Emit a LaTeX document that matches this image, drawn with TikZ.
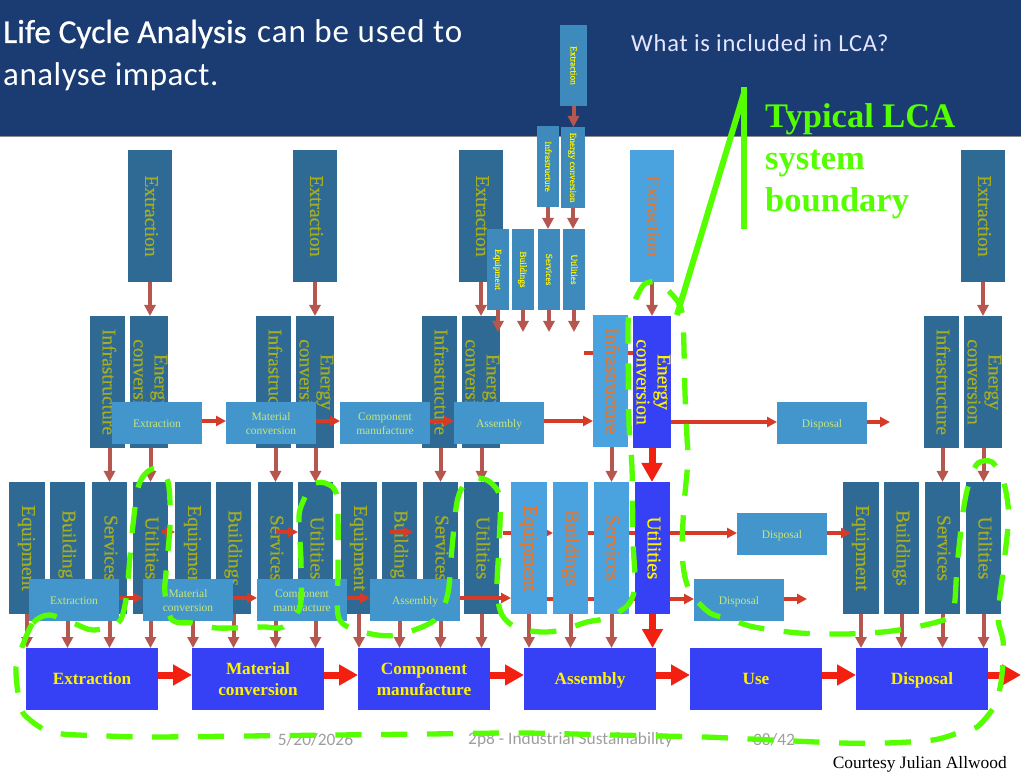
\documentclass[tikz,border=0pt]{standalone}
\usepackage{fontspec}
\usepackage{graphicx}
\usetikzlibrary{arrows.meta}
\setmainfont{Liberation Serif}
\newfontfamily\colfont[FakeBold=0.4]{Liberation Serif}
\newfontfamily\titlefont[FakeBold=0.5]{Carlito}
\newfontfamily\footfont{Carlito}
\newfontfamily\titlewide[LetterSpace=3]{Carlito}
\newfontfamily\titlenarrow[LetterSpace=1.6]{Carlito}

\definecolor{headblue}{HTML}{1A3C73}
\definecolor{steel}{HTML}{2E6A93}
\definecolor{olive}{HTML}{A6AD20}
\definecolor{sky}{HTML}{4AA2DE}
\definecolor{rust}{HTML}{E5762E}
\definecolor{stageblue}{HTML}{3640F5}
\definecolor{procblue}{HTML}{4396CC}
\definecolor{procgreen}{HTML}{C9E57A}
\definecolor{miniblue}{HTML}{3F8ABD}
\definecolor{brownred}{HTML}{B5574F}
\definecolor{thinred}{HTML}{D63B28}
\definecolor{bigred}{HTML}{F22010}
\definecolor{lcagreen}{HTML}{55FF00}

\pgfdeclarelayer{front}
\pgfdeclarelayer{top}
\pgfsetlayers{main,front,top}

\newcommand{\vtext}[1]{\makebox[0pt]{\hspace*{-1.5pt}\rotatebox{-90}{\begin{tabular}{@{}c@{}}#1\end{tabular}}}}
\newcommand{\boxtext}[1]{\raisebox{-1.5pt}[\height][\depth]{\begin{tabular}{@{}c@{}}#1\end{tabular}}}

\tikzset{
	colbox/.style={inner sep=0pt, outer sep=0pt, minimum height=132pt, font=\colfont\fontsize{19.5}{21}\selectfont},
	darkcol/.style={colbox, fill=steel, text=olive},
	lightcol/.style={colbox, fill=sky, text=rust},
	bluecol/.style={colbox, fill=stageblue, text=yellow},
	minicol/.style={inner sep=0pt, outer sep=0pt, minimum height=81pt, fill=miniblue, text=yellow, font=\colfont\fontsize{9.3}{11}\selectfont},
	procbox/.style={inner sep=0pt, outer sep=0pt, minimum width=90pt, minimum height=42pt, fill=procblue, text=procgreen, font=\fontsize{11.5}{14}\selectfont},
	stagebox/.style={inner sep=0pt, outer sep=0pt, minimum width=132pt, minimum height=62pt, fill=stageblue, text=yellow, font=\bfseries\fontsize{17.2}{21}\selectfont},
	footnum/.style={inner sep=0pt, text=black!38, font=\footfont\fontsize{17.4}{20}\selectfont},
	brownarr/.style={brownred, line width=4pt, -{Triangle[width=11pt,length=11pt]}},
	thinarr/.style={thinred, line width=3.5pt, -{Triangle[width=10pt,length=10pt]}},
	bigarr/.style={bigred, line width=7pt, -{Triangle[width=20pt,length=19pt]}},
}

\begin{document}
\begin{tikzpicture}[x=1pt, y=-1pt]
\useasboundingbox (0,0) rectangle (1021,775);

% header band
\fill[headblue] (0,0) rectangle (1021,136);
\fill[black!45] (0,136) rectangle (1021,137.5);
\node[inner sep=0pt, anchor=base west, text=white, font=\titlefont\fontsize{33.5}{40}\selectfont] (titleA) at (3,43) {Life Cycle Analysis};
\node[inner sep=0pt, anchor=base west, text=white, font=\titlewide\fontsize{33}{40}\selectfont] (titleB) at (257,43) {can be used to};
\node[inner sep=0pt, anchor=base west, text=white, font=\titlenarrow\fontsize{33}{40}\selectfont] (titleC) at (3,86) {analyse impact.};
\node[inner sep=0pt, anchor=base west, text=white!90!blue, font=\titlewide\fontsize{24.5}{28}\selectfont] (question) at (631,52) {What is included in LCA?};

% extraction columns
\foreach \grp/\xa/\sty in {A/150/darkcol, B/315/darkcol, C/481/darkcol, D/652/lightcol, E/983/darkcol} {
	\node[\sty, minimum width=44pt] (ex\grp) at (\xa,216) {\vtext{Extraction}};
}

% infrastructure and energy conversion
\foreach \grp/\xa/\xb in {A/107.5/149, B/273.5/315, C/439.5/481, E/941.5/983} {
	\node[darkcol, minimum width=35pt] (if\grp) at (\xa,382) {\vtext{Infrastructure}};
	\node[darkcol, minimum width=38pt] (en\grp) at (\xb,382) {\vtext{Energy\\conversion}};
}

% equipment to utilities
\foreach \grp/\xa/\xb/\xc/\xd in {A/27/67.5/109.5/150.5, B/193/233.5/275.5/315.5, C/359/399.5/440.5/481.5, E/861/901.5/942.5/983.5} {
	\node[darkcol, minimum width=36pt] (eq\grp) at (\xa,548) {\vtext{Equipment}};
	\node[darkcol, minimum width=35pt] (bu\grp) at (\xb,548) {\vtext{Buildings}};
	\node[darkcol, minimum width=35pt] (sv\grp) at (\xc,548) {\vtext{Services}};
	\node[darkcol, minimum width=35pt] (ut\grp) at (\xd,548) {\vtext{Utilities}};
}

% stages along the bottom
\node[stagebox] (bsExt) at (92,679) {\boxtext{Extraction}};
\node[stagebox] (bsMat) at (258,679) {\boxtext{Material\\conversion}};
\node[stagebox] (bsCmp) at (424,679) {\boxtext{Component\\manufacture}};
\node[stagebox] (bsAsm) at (590,679) {\boxtext{Assembly}};
\node[stagebox] (bsUse) at (756,679) {\boxtext{Use}};
\node[stagebox] (bsDis) at (922,679) {\boxtext{Disposal}};

% brown feeds
\foreach \grp/\base in {A/bsExt, B/bsMat, C/bsCmp, E/bsDis} {
	\draw[brownarr] (ex\grp.south) -- (ex\grp.south |- en\grp.north);
	\draw[brownarr] (sv\grp.north |- if\grp.south) -- (sv\grp.north);
	\draw[brownarr] (ut\grp.north |- en\grp.south) -- (ut\grp.north);
	\foreach \nm in {eq, bu, sv, ut} {
		\draw[brownarr] (\nm\grp.south) -- (\nm\grp.south |- \base.north);
	}
}

% free ends
\coordinate (hopA) at (162,532);
\coordinate (hopB) at (276,532);
\coordinate (hopC) at (390,532);
\coordinate (hopCend) at (413,532);
\coordinate (hopD) at (503,533);
\coordinate (stubD) at (584,353);
\coordinate (outU) at (890,422);
\coordinate (outL) at (807,599);
\coordinate (outM) at (851,533);
\coordinate (outR) at (1021,675);

% light and blue columns
\begin{pgfonlayer}{front}
\node[lightcol, minimum width=35pt] (ifD) at (610.5,381) {\vtext{Infrastructure}};
\node[bluecol, minimum width=38pt] (enD) at (652,382) {\vtext{Energy\\conversion}};
\node[lightcol, minimum width=36pt] (eqD) at (529,548) {\vtext{Equipment}};
\node[lightcol, minimum width=35pt] (buD) at (570.5,548) {\vtext{Buildings}};
\node[lightcol, minimum width=35pt] (svD) at (611.5,548) {\vtext{Services}};
\node[bluecol, minimum width=35pt] (utD) at (652.5,548) {\vtext{Utilities}};
\draw[bigarr] (enD.south) -- (enD.south |- utD.north);
\draw[bigarr] (utD.south) -- (utD.south |- bsAsm.north);
\end{pgfonlayer}

\draw[brownarr] (exD.south) -- (exD.south |- enD.north);
\draw[brownarr] (svD.north |- ifD.south) -- (svD.north);
\foreach \nm in {eq, bu, sv} {
	\draw[brownarr] (\nm D.south) -- (\nm D.south |- bsAsm.north);
}

% process boxes
\node[procbox] (upExt) at (157,423) {\boxtext{Extraction}};
\node[procbox] (upMat) at (271,423) {\boxtext{Material\\conversion}};
\node[procbox] (upCmp) at (385,423) {\boxtext{Component\\manufacture}};
\node[procbox] (upAsm) at (499,423) {\boxtext{Assembly}};
\node[procbox] (upDis) at (822,423) {\boxtext{Disposal}};
\node[procbox] (loExt) at (74,600) {\boxtext{Extraction}};
\node[procbox] (loMat) at (188,600) {\boxtext{Material\\conversion}};
\node[procbox] (loCmp) at (302,600) {\boxtext{Component\\manufacture}};
\node[procbox] (loAsm) at (415,600) {\boxtext{Assembly}};
\node[procbox] (loDis) at (739,600) {\boxtext{Disposal}};
\node[procbox] (miDis) at (782,534) {\boxtext{Disposal}};

% thin red arrows, upper row
\foreach \a/\b in {upExt/upMat, upMat/upCmp, upCmp/upAsm} {
	\draw[thinarr] ([yshift=2pt]\a.east) -- ([yshift=2pt]\b.west);
}
\draw[thinarr] ([yshift=2pt]upAsm.east) -- ([yshift=2pt]upAsm.east -| ifD.west);
\draw[thinred, line width=3.5pt] (stubD) -- (stubD -| enD.west);
\draw[thinarr] (enD.east |- outU) -- (outU -| upDis.west);
\draw[thinarr] (outU -| upDis.east) -- (outU);
% thin red arrows, lower row
\foreach \a/\b in {loExt/loMat, loMat/loCmp, loCmp/loAsm} {
	\draw[thinarr] ([yshift=2pt]\a.east) -- ([yshift=2pt]\b.west);
}
\draw[thinarr] ([yshift=2pt]loAsm.east) -- ([yshift=2pt]loAsm.east -| eqD.west);
\draw[thinarr] (eqD.east |- outL) -- (outL -| loDis.west);
\draw[thinarr] (outL -| loDis.east) -- (outL);
% thin red arrows, middle row
\draw[thinarr] (hopA) -- (hopA -| eqB.west);
\draw[thinarr] (hopB) -- (hopB -| utB.west);
\draw[thinarr] (hopC) -- (hopCend);
\draw[thinarr] (hopD) -- (hopD -| buD.west);
\draw[thinarr] (hopD -| buD.west) -- (hopD -| miDis.west);
\draw[thinarr] (outM -| miDis.east) -- (outM);

% thick red arrows
\foreach \a/\b in {bsExt/bsMat, bsMat/bsCmp, bsCmp/bsAsm, bsAsm/bsUse, bsUse/bsDis} {
	\draw[bigarr] ([yshift=4pt]\a.east) -- ([yshift=4pt]\b.west);
}
\draw[bigarr] (bsDis.east |- outR) -- (outR);

% footer
\node[footnum] (footA) at (315.5,740) {5/20/2026};
\node[footnum] (footB) at (570.5,740) {2p8 - Industrial Sustainability};
\node[footnum] (footC) at (774,740) {38/42};
\node[inner sep=0pt, anchor=base east, font=\fontsize{17.4}{20}\selectfont] (courtesy) at (1007,768) {Courtesy Julian Allwood};

\begin{pgfonlayer}{top}
% small copy at the top
\node[minicol, minimum width=27pt] (miEx) at (573.5,65.5) {\vtext{Extraction}};
\node[minicol, minimum width=22pt] (miIf) at (548,166.5) {\vtext{Infrastructure}};
\node[minicol, minimum width=24pt] (miEn) at (573,167.5) {\vtext{Energy conversion}};
\node[minicol, minimum width=22pt] (miEq) at (498,269.5) {\vtext{Equipment}};
\node[minicol, minimum width=22pt] (miBu) at (523,269.5) {\vtext{Buildings}};
\node[minicol, minimum width=22pt] (miSv) at (549,269.5) {\vtext{Services}};
\node[minicol, minimum width=22pt] (miUt) at (574,269.5) {\vtext{Utilities}};
\draw[brownarr] (miEx.south) -- (miEx.south |- miEn.north);
\draw[brownarr] (miIf.south) -- (miIf.south |- miSv.north);
\draw[brownarr] (miEn.south) -- (miEn.south |- miUt.north);
\foreach \nm in {miEq, miBu, miSv, miUt} {
	\coordinate (\nm end) at ([yshift=-22pt]\nm.south);
	\draw[brownarr] (\nm.south) -- (\nm end);
}

% system boundary
\draw[lcagreen, line width=5.3pt, dash pattern=on 26.2pt off 19.6pt] plot[smooth cycle, tension=0.5] coordinates {
	(22,647) (33,623) (49,615) (73,623) (93,630) (118,623) (125,605) (128,580) (132,534) (138,488)
	(147,472) (160,468) (168,482) (170,502) (170,527) (166,573) (165,593) (172,620) (192,623) (217,628)
	(263,627) (283,627) (300,607) (301,562) (299,516) (305,497) (310,485) (325,483) (337,497) (338,568)
	(338,615) (350,628) (377,635) (397,635) (422,627) (438,617) (448,593) (452,548) (457,502) (465,483)
	(477,478) (490,482) (500,498) (499,545) (497,590) (502,615) (517,628) (542,632) (562,630) (587,622)
	(607,618) (628,605) (635,585) (633,540) (632,468) (629,423) (628,332) (630,312) (642,287) (650,282)
	(660,283) (678,302) (683,322) (685,393) (687,438) (688,460) (684,505) (682,550) (685,577) (692,595)
	(710,613) (729,619) (754,627) (799,633) (846,634) (892,631) (937,622) (953,612) (957,567) (962,520)
	(966,495) (971,477) (978,463) (992,462) (1003,480) (1008,505) (1008,526) (1003,572) (998,617) (1003,640)
	(1003,663) (1000,688) (994,707) (977,727) (958,733) (933,740) (887,743) (842,743) (750,739) (704,737)
	(613,735) (521,733) (429,734) (337,735) (246,736) (153,737) (107,736) (62,734) (43,729) (23,713)
	(18,693) (16,667)
};
\coordinate (lineTop) at (744,87);
\coordinate (lineEnd) at (744,229);
\coordinate (lineLow) at (677,315);
\draw[lcagreen, line width=6pt] (lineLow) -- ([yshift=-6pt]lineTop);
\draw[lcagreen, line width=6pt] (lineTop) -- (lineEnd);
\node[inner sep=0pt, anchor=north west, align=left, text=lcagreen, font=\bfseries\fontsize{34.5}{42}\selectfont] (lcaText) at (765,103) {Typical LCA\\system\\boundary};
\end{pgfonlayer}

\end{tikzpicture}
\end{document}
